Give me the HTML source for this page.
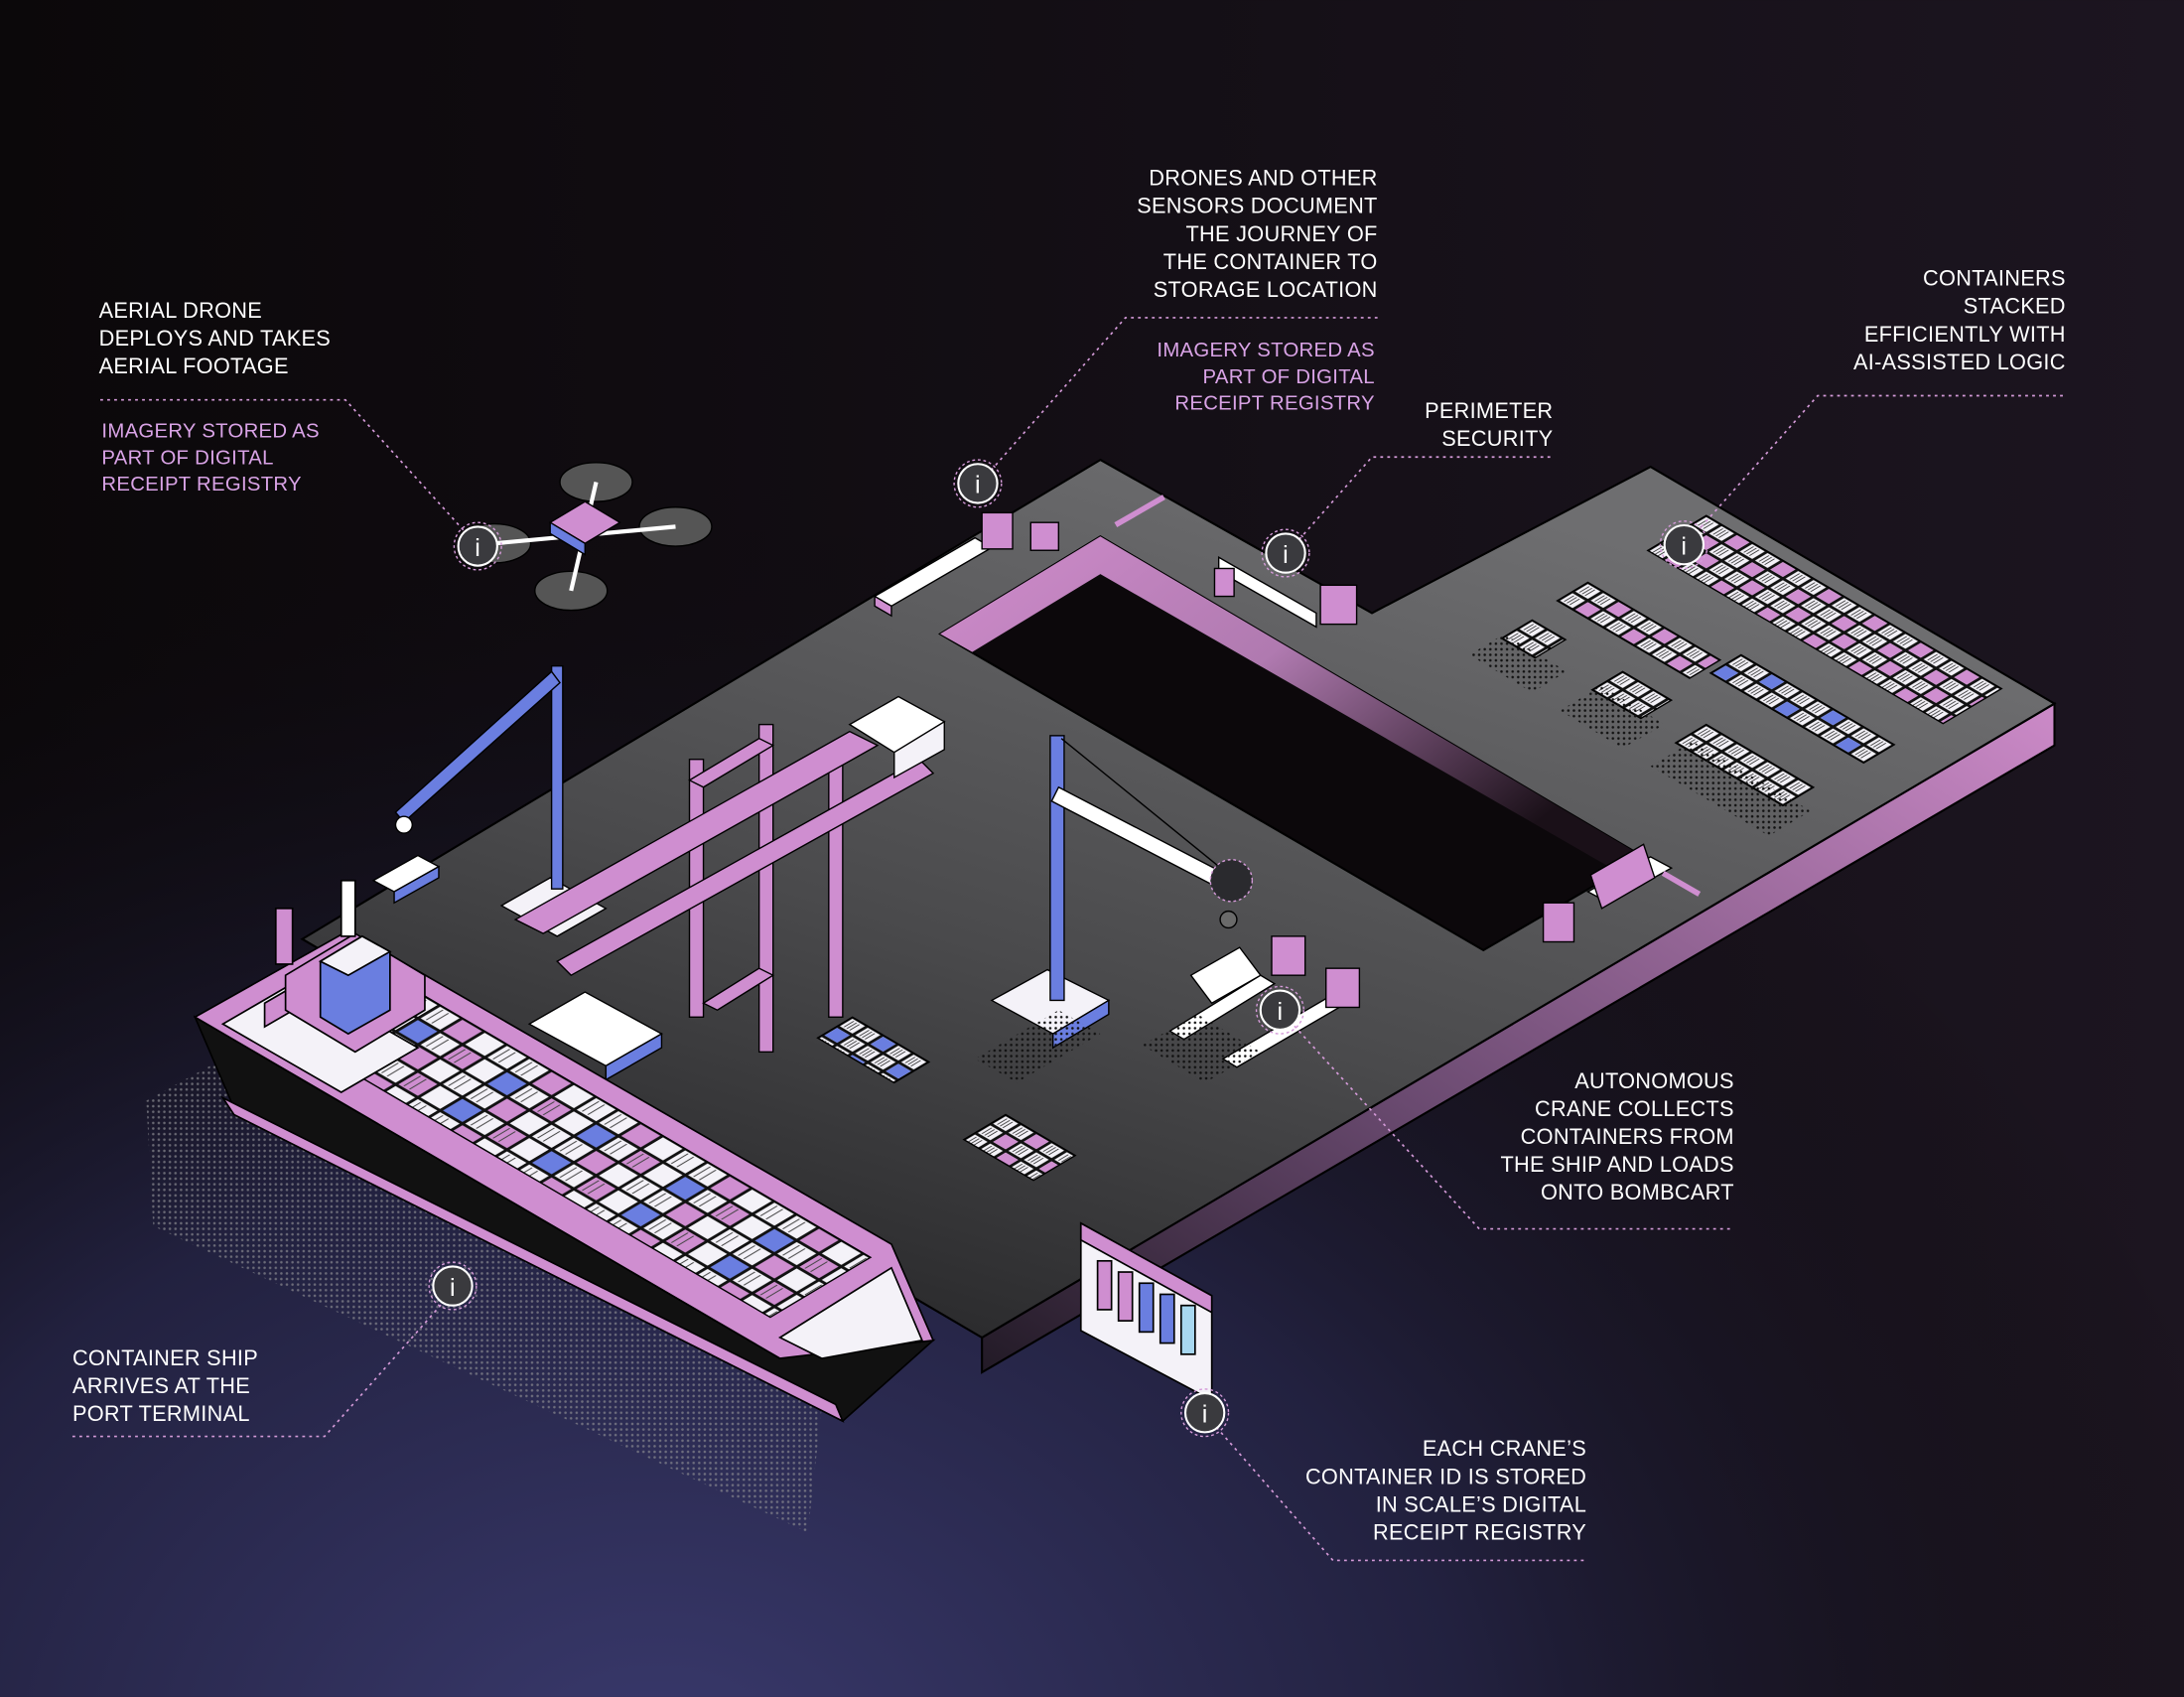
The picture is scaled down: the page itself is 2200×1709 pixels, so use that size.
<!DOCTYPE html>
<html><head><meta charset="utf-8"><style>
html,body{margin:0;padding:0;background:#0d090c}
svg{display:block}
text{font-family:"Liberation Sans",sans-serif;font-size:15.5px;fill:#fff;letter-spacing:0.2px}
.p{fill:#d9a3e6;font-size:14.5px}
.r{text-anchor:end}
.ld{stroke:#d49ad8;stroke-width:1.2;stroke-dasharray:2 3;fill:none}
</style></head><body>
<svg width="2200" height="1709" viewBox="0 0 1568 1218" xmlns="http://www.w3.org/2000/svg">
<defs>
<radialGradient id="bg1" cx="0.3" cy="1.05" r="0.75">
<stop offset="0" stop-color="#3a3a6e"/><stop offset="0.5" stop-color="#22213f"/><stop offset="1" stop-color="#0d090c" stop-opacity="0"/>
</radialGradient>
<linearGradient id="bg2" x1="0" y1="0" x2="1" y2="0"><stop offset="0" stop-color="#0b080a"/><stop offset="1" stop-color="#1c1520"/></linearGradient>
<linearGradient id="top" x1="0" y1="1" x2="0.6" y2="0"><stop offset="0" stop-color="#1c1c1e"/><stop offset="0.5" stop-color="#4a4a4c"/><stop offset="1" stop-color="#6e6e70"/></linearGradient>
<linearGradient id="side" x1="1" y1="0" x2="0" y2="1"><stop offset="0" stop-color="#cc8ac8"/><stop offset="0.6" stop-color="#6a4a70"/><stop offset="1" stop-color="#221a26"/></linearGradient>
<linearGradient id="wall" x1="0" y1="0" x2="1" y2="0.6"><stop offset="0" stop-color="#d08ccc"/><stop offset="0.5" stop-color="#b07ab0"/><stop offset="1" stop-color="#1a1018"/></linearGradient>
<pattern id="cont" width="11" height="11" patternUnits="userSpaceOnUse"><rect width="11" height="11" fill="#111"/><rect x="1" y="1" width="9" height="9" fill="#f4f2f8"/><path d="M3 2v7M5 2v7M7 2v7" stroke="#333" stroke-width="0.6"/></pattern>
<pattern id="contp" width="33" height="22" patternUnits="userSpaceOnUse"><rect width="33" height="22" fill="url(#cont)"/><rect x="23" y="1" width="9" height="9" fill="#cf8ed0"/><rect x="12" y="12" width="9" height="9" fill="#cf8ed0"/></pattern>
<pattern id="contb" width="44" height="22" patternUnits="userSpaceOnUse"><rect width="44" height="22" fill="url(#cont)"/><rect x="1" y="12" width="9" height="9" fill="#6a7ee0"/><rect x="23" y="1" width="9" height="9" fill="#6a7ee0"/></pattern>
<pattern id="shipc" width="64" height="32" patternUnits="userSpaceOnUse"><rect width="64" height="32" fill="#111"/>
<rect x="1" y="1" width="14" height="14" fill="#f4f2f8"/><rect x="17" y="1" width="14" height="14" fill="#f4f2f8"/><rect x="33" y="1" width="14" height="14" fill="#cf8ed0"/><rect x="49" y="1" width="14" height="14" fill="#f4f2f8"/>
<rect x="1" y="17" width="14" height="14" fill="#f4f2f8"/><rect x="17" y="17" width="14" height="14" fill="#6a7ee0"/><rect x="33" y="17" width="14" height="14" fill="#f4f2f8"/><rect x="49" y="17" width="14" height="14" fill="#cf8ed0"/>
<path d="M4 2v12M8 2v12M20 2v12M24 2v12M52 18v12M56 18v12M36 18v12M40 18v12" stroke="#444" stroke-width="0.7"/></pattern>
<pattern id="dots" width="4" height="4" patternUnits="userSpaceOnUse"><circle cx="2" cy="2" r="0.9" fill="#8a8a90"/></pattern>
<pattern id="dotsd" width="4" height="4" patternUnits="userSpaceOnUse"><circle cx="2" cy="2" r="0.9" fill="#111"/></pattern>
</defs>
<rect width="1568" height="1218" fill="url(#bg2)"/>
<rect width="1568" height="1218" fill="url(#bg1)"/>

<polygon points="105,790 160,760 590,1010 580,1100 110,880" fill="url(#dots)" opacity="0.7"/>

<polygon points="1475,505 1475,535 705,985 705,960" fill="url(#side)" stroke="#000" stroke-width="1.5"/>
<polygon points="790,330 985,440 1185,335 1475,505 705,960 217,674" fill="url(#top)" stroke="#000" stroke-width="1.5"/>
<polygon points="675,455 790,385 1180,615 1065,682" fill="#0c080b" stroke="#000" stroke-width="1.5"/>
<polygon points="675,455 790,385 1180,615 1162,626 790,412 698,468" fill="url(#wall)"/>

<g transform="matrix(1,0.586,-1,0.597,1225,370)"><rect width="212" height="42" fill="url(#contp)" stroke="#000"/></g>
<g transform="matrix(1,0.586,-1,0.597,1140,418)"><rect width="95" height="22" fill="url(#contp)" stroke="#000"/></g>
<g transform="matrix(1,0.586,-1,0.597,1100,445)"><rect width="24" height="22" fill="url(#cont)" stroke="#000"/></g>
<g transform="matrix(1,0.586,-1,0.597,1165,482)"><rect width="35" height="22" fill="url(#cont)" stroke="#000"/></g>
<g transform="matrix(1,0.586,-1,0.597,1250,470)"><rect width="110" height="22" fill="url(#contb)" stroke="#000"/></g>
<g transform="matrix(1,0.586,-1,0.597,1225,520)"><rect width="77" height="22" fill="url(#cont)" stroke="#000"/></g>
<polygon points="1055,470 1080,455 1125,482 1100,497" fill="url(#dotsd)"/>
<polygon points="1120,510 1150,492 1195,520 1165,537" fill="url(#dotsd)"/>
<polygon points="1185,550 1215,532 1300,582 1270,600" fill="url(#dotsd)"/>

<g stroke="#000" stroke-width="1">
<polygon points="628,428 700,386 712,393 640,435" fill="#fff"/><polygon points="628,428 640,435 640,442 628,435" fill="#cf8ed0"/>
<rect x="705" y="368" width="22" height="26" fill="#cf8ed0"/><rect x="740" y="375" width="20" height="20" fill="#cf8ed0"/>
<polygon points="875,400 945,440 945,450 875,410" fill="#fff"/><rect x="948" y="420" width="26" height="28" fill="#cf8ed0"/>
<rect x="872" y="408" width="14" height="20" fill="#cf8ed0"/>
<polygon points="1140,640 1185,615 1200,623 1155,648" fill="#fff"/><rect x="1108" y="648" width="22" height="28" fill="#cf8ed0"/>
<polygon points="1142,628 1180,606 1188,630 1150,652" fill="#cf8ed0"/>
<polygon points="840,740 905,700 915,706 850,746" fill="#fff"/><polygon points="878,760 955,715 965,721 888,766" fill="#fff"/>
<polygon points="855,700 890,680 905,700 870,720" fill="#fff"/><rect x="913" y="672" width="24" height="28" fill="#cf8ed0"/><rect x="952" y="695" width="24" height="28" fill="#cf8ed0"/>
</g>
<g fill="#cf8ed0"><rect x="800" y="375" width="40" height="4" transform="rotate(-30 800 375)"/><rect x="1195" y="625" width="30" height="4" transform="rotate(30 1195 625)"/></g>

<g stroke="#000" stroke-width="1">
<polygon points="360,650 395,630 435,652 400,672" fill="#f4f2f8"/>
<rect x="396" y="478" width="8" height="160" fill="#6a7ee0"/>
<polygon points="284,583 396,482 402,490 290,590" fill="#6a7ee0"/>
<circle cx="290" cy="592" r="6" fill="#fff"/>
<polygon points="268,632 300,614 315,622 283,640" fill="#fff"/><polygon points="283,640 315,622 315,630 283,648" fill="#6a7ee0"/>
<g fill="#cf8ed0">
<rect x="495" y="545" width="10" height="185"/><rect x="545" y="520" width="10" height="235"/><rect x="595" y="545" width="10" height="185"/>
<polygon points="370,660 610,525 630,535 390,670"/><polygon points="400,690 660,545 670,555 410,700"/>
<polygon points="495,560 545,530 555,535 505,565"/><polygon points="505,720 545,695 555,700 515,725"/>
</g>
<polygon points="610,520 645,500 678,518 642,540" fill="#fff"/><polygon points="642,540 678,518 678,538 642,558" fill="#f4f2f8"/>
<polygon points="380,735 420,712 475,742 435,765" fill="#fff"/><polygon points="435,765 475,742 475,752 435,775" fill="#6a7ee0"/>
<polygon points="712,718 752,696 796,718 756,742" fill="#f4f2f8"/><polygon points="756,742 796,718 796,728 756,752" fill="#6a7ee0"/>
<rect x="754" y="528" width="10" height="190" fill="#6a7ee0"/>
<polygon points="760,565 885,630 880,640 755,575" fill="#fff"/>
<line x1="762" y1="530" x2="885" y2="630"/>
<circle cx="884" cy="632" r="15" fill="#2a2a2e" stroke="#d49ad8" stroke-dasharray="2 2"/>
<circle cx="882" cy="660" r="6" fill="#6a6a6a"/>
</g>
<g transform="matrix(1,0.586,-1,0.597,612,730)"><rect width="55" height="25" fill="url(#contb)" stroke="#000"/></g>
<g transform="matrix(1,0.586,-1,0.597,722,800)"><rect width="50" height="30" fill="url(#contp)" stroke="#000"/></g>
<polygon points="700,760 760,725 790,742 730,777" fill="url(#dotsd)"/>
<polygon points="820,750 860,728 905,755 865,777" fill="url(#dotsd)"/>

<g stroke="#000" stroke-width="1.2">
<polygon points="140,730 560,975 670,962 605,1020 170,800" fill="#111"/>
<polygon points="160,788 600,1008 605,1020 168,800" fill="#cf8ed0"/>
<polygon points="140,730 250,668 640,893 670,962 560,975" fill="#cf8ed0"/>
<polygon points="560,960 640,910 662,962 590,975" fill="#f4f2f8"/>
</g>
<g transform="matrix(1,0.586,-1,0.597,300,712)"><rect width="325" height="72" fill="url(#shipc)" stroke="#000"/></g>
<g stroke="#000" stroke-width="1.2">
<polygon points="160,735 215,703 300,752 245,784" fill="#f4f2f8"/>
<polygon points="190,720 245,688 245,705 190,737" fill="#cf8ed0"/>
<polygon points="205,700 255,670 305,700 305,725 255,755 205,725" fill="#cf8ed0"/>
<polygon points="230,690 260,672 280,683 280,725 250,742 230,730" fill="#6a7ee0"/>
<polygon points="230,690 260,672 280,683 250,700" fill="#f4f2f8"/>
<rect x="198" y="652" width="12" height="40" fill="#cf8ed0"/>
<rect x="245" y="632" width="10" height="40" fill="#fff"/>
</g>

<g stroke="#000">
<ellipse cx="428" cy="346" rx="26" ry="14" fill="#555"/><ellipse cx="485" cy="378" rx="26" ry="14" fill="#555"/>
<ellipse cx="410" cy="424" rx="26" ry="14" fill="#555"/><ellipse cx="355" cy="390" rx="26" ry="14" fill="#555"/>
<line x1="428" y1="346" x2="410" y2="424" stroke="#fff" stroke-width="3"/><line x1="355" y1="390" x2="485" y2="378" stroke="#fff" stroke-width="3"/>
<polygon points="395,375 420,360 445,375 420,390" fill="#cf8ed0"/><polygon points="395,375 420,390 420,398 395,383" fill="#6a7ee0"/>
</g>
<g stroke="#000" stroke-width="1.2">
<polygon points="776,878 870,930 870,1005 776,955" fill="#f4f2f8"/>
<polygon points="776,878 870,930 870,942 776,890" fill="#cf8ed0"/>
<g fill="#cf8ed0"><rect x="788" y="905" width="10" height="35"/><rect x="803" y="913" width="10" height="35"/></g>
<g fill="#6a7ee0"><rect x="818" y="921" width="10" height="35"/><rect x="833" y="929" width="10" height="35"/></g>
<rect x="848" y="937" width="10" height="35" fill="#a8d8f0"/>
</g>

<polyline class="ld" points="72,287 248,287 335,383"/>
<polyline class="ld" points="989,228 808,228 712,337"/>
<polyline class="ld" points="1113,328 985,328 932,388"/>
<polyline class="ld" points="1481,284 1305,284 1218,382"/>
<polyline class="ld" points="1242,882 1062,882 928,735"/>
<polyline class="ld" points="52,1031 233,1031 318,935"/>
<polyline class="ld" points="1137,1120 957,1120 873,1024"/>

<g font-family="Liberation Serif">
<circle cx="343" cy="392" r="14" fill="#3a3a3e" stroke="#fff" stroke-width="1.5"/><circle cx="343" cy="392" r="17" fill="none" stroke="#d49ad8" stroke-dasharray="2 2"/><text x="343" y="399" text-anchor="middle" style="font-size:18px">i</text>
<circle cx="702" cy="347" r="14" fill="#3a3a3e" stroke="#fff" stroke-width="1.5"/><circle cx="702" cy="347" r="17" fill="none" stroke="#d49ad8" stroke-dasharray="2 2"/><text x="702" y="354" text-anchor="middle" style="font-size:18px">i</text>
<circle cx="923" cy="397" r="14" fill="#3a3a3e" stroke="#fff" stroke-width="1.5"/><circle cx="923" cy="397" r="17" fill="none" stroke="#d49ad8" stroke-dasharray="2 2"/><text x="923" y="404" text-anchor="middle" style="font-size:18px">i</text>
<circle cx="1209" cy="391" r="14" fill="#3a3a3e" stroke="#fff" stroke-width="1.5"/><circle cx="1209" cy="391" r="17" fill="none" stroke="#d49ad8" stroke-dasharray="2 2"/><text x="1209" y="398" text-anchor="middle" style="font-size:18px">i</text>
<circle cx="919" cy="725" r="14" fill="#3a3a3e" stroke="#fff" stroke-width="1.5"/><circle cx="919" cy="725" r="17" fill="none" stroke="#d49ad8" stroke-dasharray="2 2"/><text x="919" y="732" text-anchor="middle" style="font-size:18px">i</text>
<circle cx="325" cy="923" r="14" fill="#3a3a3e" stroke="#fff" stroke-width="1.5"/><circle cx="325" cy="923" r="17" fill="none" stroke="#d49ad8" stroke-dasharray="2 2"/><text x="325" y="930" text-anchor="middle" style="font-size:18px">i</text>
<circle cx="865" cy="1014" r="14" fill="#3a3a3e" stroke="#fff" stroke-width="1.5"/><circle cx="865" cy="1014" r="17" fill="none" stroke="#d49ad8" stroke-dasharray="2 2"/><text x="865" y="1021" text-anchor="middle" style="font-size:18px">i</text>
</g>

<text x="71" y="228">AERIAL DRONE</text><text x="71" y="248">DEPLOYS AND TAKES</text><text x="71" y="268">AERIAL FOOTAGE</text>
<text class="p" x="73" y="314">IMAGERY STORED AS</text><text class="p" x="73" y="333">PART OF DIGITAL</text><text class="p" x="73" y="352">RECEIPT REGISTRY</text>
<text class="r" x="989" y="133">DRONES AND OTHER</text><text class="r" x="989" y="153">SENSORS DOCUMENT</text><text class="r" x="989" y="173">THE JOURNEY OF</text><text class="r" x="989" y="193">THE CONTAINER TO</text><text class="r" x="989" y="213">STORAGE LOCATION</text>
<text class="p r" x="987" y="256">IMAGERY STORED AS</text><text class="p r" x="987" y="275">PART OF DIGITAL</text><text class="p r" x="987" y="294">RECEIPT REGISTRY</text>
<text class="r" x="1115" y="300">PERIMETER</text><text class="r" x="1115" y="320">SECURITY</text>
<text class="r" x="1483" y="205">CONTAINERS</text><text class="r" x="1483" y="225">STACKED</text><text class="r" x="1483" y="245">EFFICIENTLY WITH</text><text class="r" x="1483" y="265">AI-ASSISTED LOGIC</text>
<text class="r" x="1245" y="781">AUTONOMOUS</text><text class="r" x="1245" y="801">CRANE COLLECTS</text><text class="r" x="1245" y="821">CONTAINERS FROM</text><text class="r" x="1245" y="841">THE SHIP AND LOADS</text><text class="r" x="1245" y="861">ONTO BOMBCART</text>
<text class="r" x="1139" y="1045">EACH CRANE’S</text><text class="r" x="1139" y="1065">CONTAINER ID IS STORED</text><text class="r" x="1139" y="1085">IN SCALE’S DIGITAL</text><text class="r" x="1139" y="1105">RECEIPT REGISTRY</text>
<text x="52" y="980">CONTAINER SHIP</text><text x="52" y="1000">ARRIVES AT THE</text><text x="52" y="1020">PORT TERMINAL</text>
</svg>
</body></html>
